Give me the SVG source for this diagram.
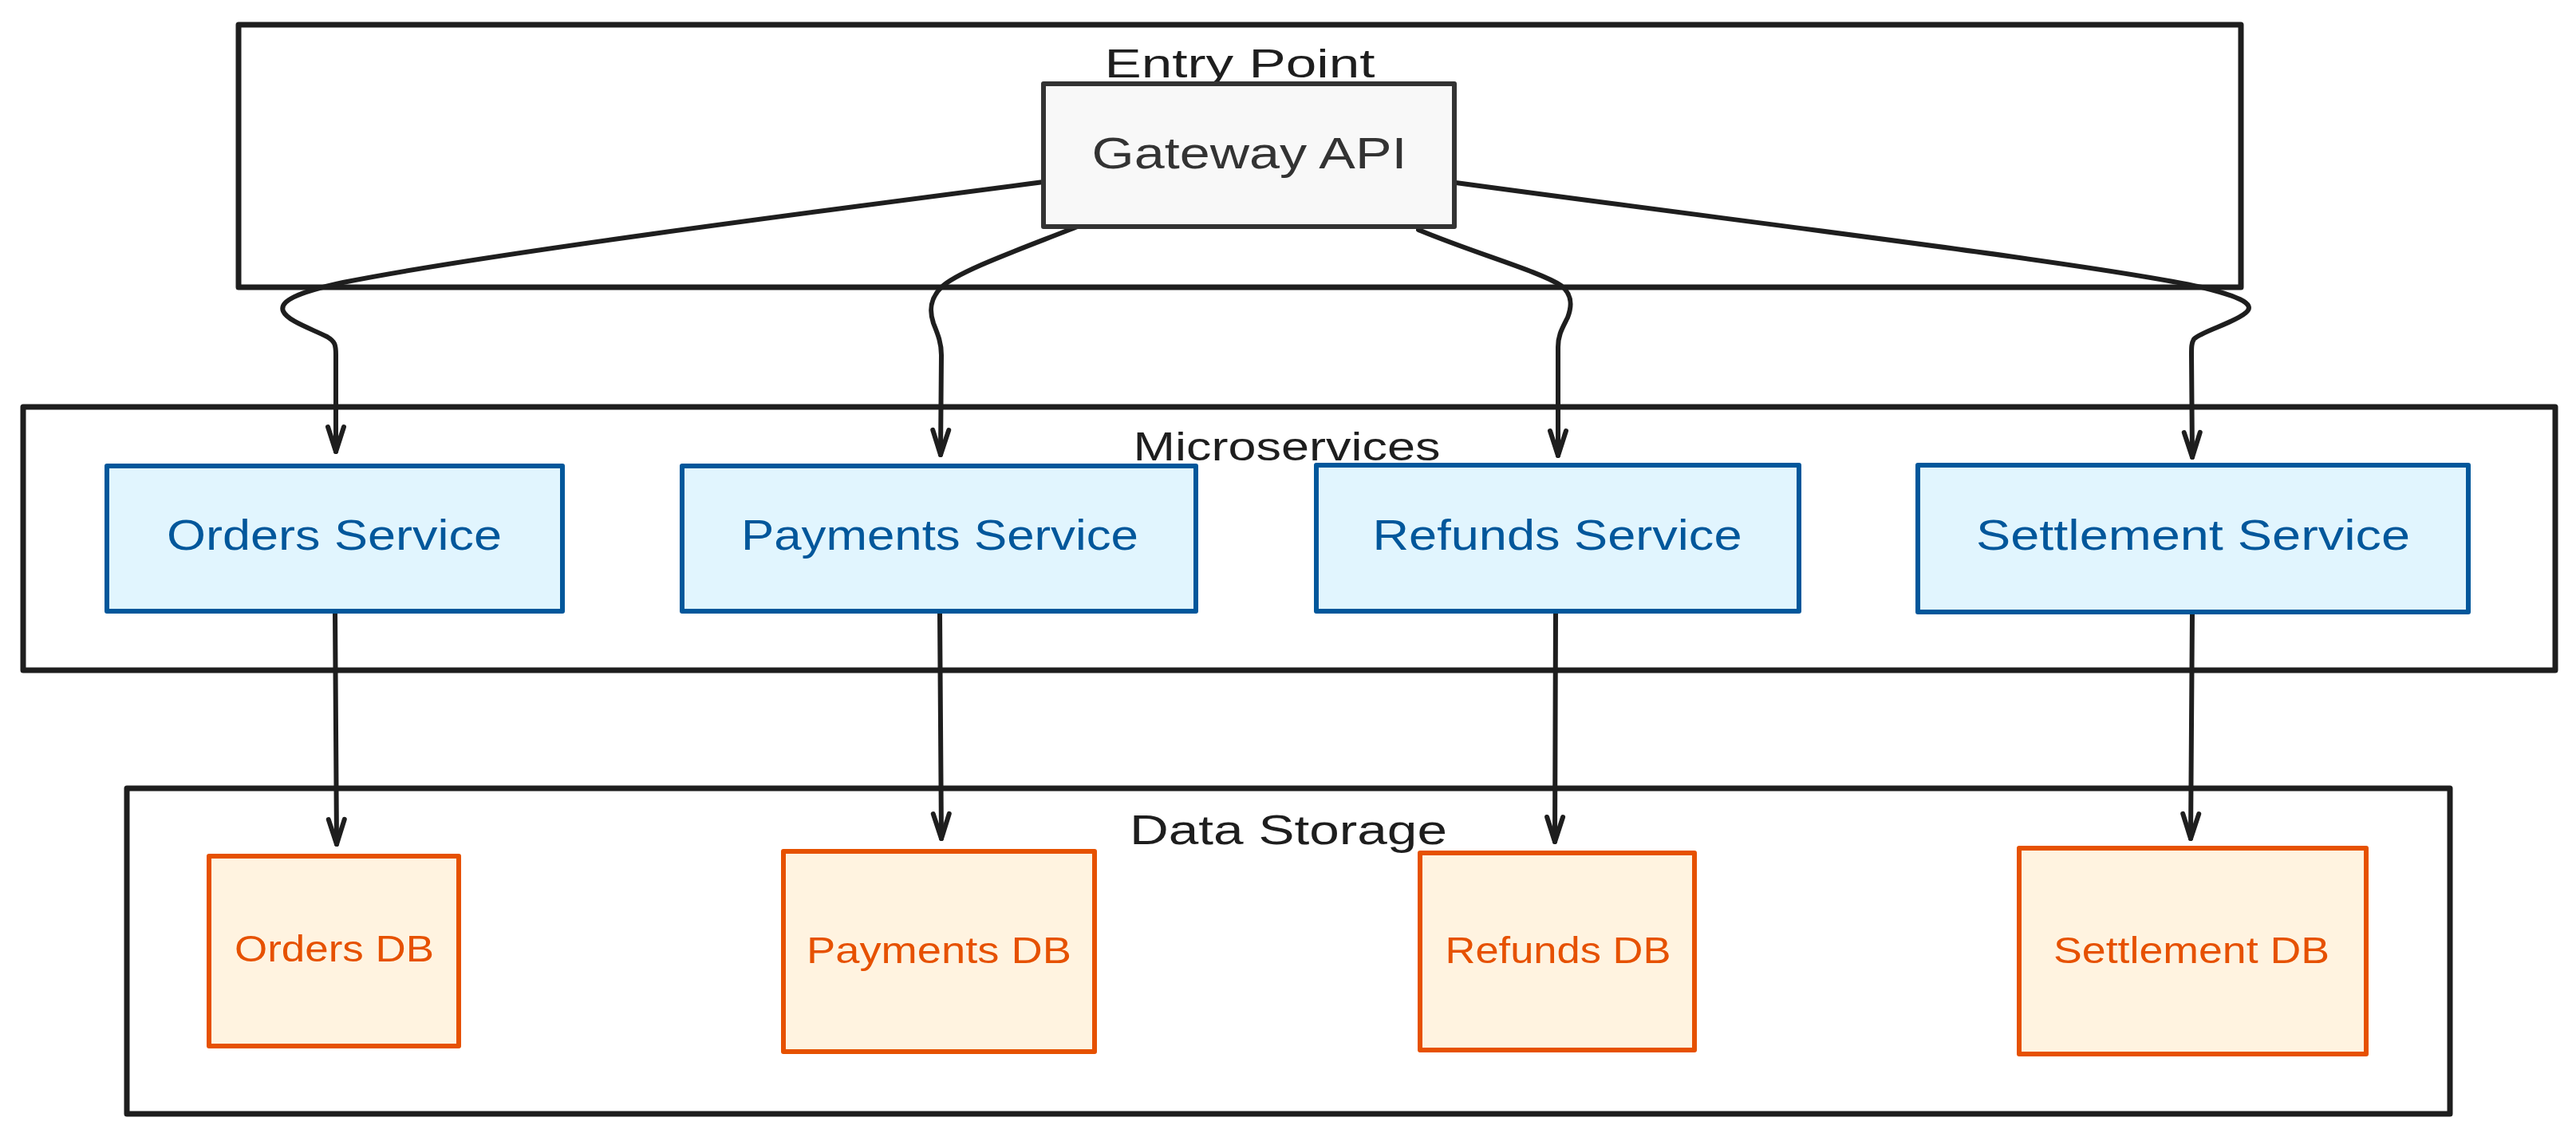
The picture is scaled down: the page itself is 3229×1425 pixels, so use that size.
<svg xmlns="http://www.w3.org/2000/svg" width="3229" height="1425" viewBox="0 0 3229 1425">
<defs>
<style>
.grp{fill:#ffffff;stroke:#1e1e1e;stroke-width:7;stroke-linejoin:round}
.gw{fill:#f8f8f8;stroke:#333333;stroke-width:6;stroke-linejoin:round}
.svc{fill:#e1f5fe;stroke:#01579b;stroke-width:6;stroke-linejoin:round}
.db{fill:#fff3e0;stroke:#e65100;stroke-width:6;stroke-linejoin:round}
.lbl{font-family:"Liberation Sans",Arial,sans-serif;fill:#1e1e1e;text-anchor:middle}
.tgw{font-family:"Liberation Sans",Arial,sans-serif;fill:#333333;text-anchor:middle}
.tsvc{font-family:"Liberation Sans",Arial,sans-serif;fill:#01579b;text-anchor:middle}
.tdb{font-family:"Liberation Sans",Arial,sans-serif;fill:#e65100;text-anchor:middle}
.edge{fill:none;stroke:#1e1e1e;stroke-width:6;stroke-linecap:round;stroke-linejoin:round}
</style>
<marker id="ah" viewBox="-40 -20 48 40" refX="0" refY="0" markerWidth="48" markerHeight="40" markerUnits="userSpaceOnUse" orient="auto">
<path d="M-31,-10 L0,0 L-31,10" fill="none" stroke="#1e1e1e" stroke-width="6" stroke-linecap="round" stroke-linejoin="round"/>
</marker>
</defs>
<rect width="3229" height="1425" fill="#ffffff"/>

<g id="entry-point">
<rect class="grp" x="299" y="31" width="2510" height="329"/>
<text class="lbl" x="1554" y="97" font-size="50" textLength="339" lengthAdjust="spacingAndGlyphs">Entry Point</text>
</g>
<g id="microservices">
<rect class="grp" x="29" y="510" width="3174" height="330"/>
<text class="lbl" x="1613" y="577" font-size="50" textLength="385" lengthAdjust="spacingAndGlyphs">Microservices</text>
</g>
<g id="data-storage">
<rect class="grp" x="159" y="988" width="2912" height="408"/>
<text class="lbl" x="1615" y="1058" font-size="52" textLength="398" lengthAdjust="spacingAndGlyphs">Data Storage</text>
</g>

<g id="connectors">
<path class="edge" marker-end="url(#ah)" d="M1308,228 C1000,268 600,320 430,354 C370,367 350,378 355,390 C360,402 390,412 410,422 C420,428 421,432 421,445 L421,566"/>
<path class="edge" marker-end="url(#ah)" d="M1353,283 C1280,312 1200,340 1180,360 C1165,375 1165,390 1170,405 C1176,420 1180,430 1180,445 L1179,570"/>
<path class="edge" marker-end="url(#ah)" d="M1778,288 C1850,318 1930,340 1957,358 C1972,370 1970,385 1965,398 C1958,412 1953,420 1953,435 L1953,571"/>
<path class="edge" marker-end="url(#ah)" d="M1825,229 C2200,280 2620,330 2760,360 C2800,370 2830,380 2815,392 C2800,405 2760,415 2750,425 C2747,430 2747,435 2747,445 L2748,573"/>
<path class="edge" marker-end="url(#ah)" d="M420,767 L422,1058"/>
<path class="edge" marker-end="url(#ah)" d="M1178,767 L1180,1051"/>
<path class="edge" marker-end="url(#ah)" d="M1950,767 L1949,1055"/>
<path class="edge" marker-end="url(#ah)" d="M2748,767 L2746,1051"/>
</g>

<g id="gateway-api">
<rect class="gw" x="1308" y="105" width="515" height="179"/>
<text class="tgw" x="1566" y="211" font-size="56" textLength="395" lengthAdjust="spacingAndGlyphs">Gateway API</text>
</g>

<g id="orders-service">
<rect class="svc" x="134" y="584" width="571" height="182"/>
<text class="tsvc" x="419" y="689" font-size="54" textLength="420" lengthAdjust="spacingAndGlyphs">Orders Service</text>
</g>
<g id="payments-service">
<rect class="svc" x="855" y="584" width="644" height="182"/>
<text class="tsvc" x="1178" y="689" font-size="54" textLength="498" lengthAdjust="spacingAndGlyphs">Payments Service</text>
</g>
<g id="refunds-service">
<rect class="svc" x="1650" y="583" width="605" height="183"/>
<text class="tsvc" x="1952" y="689" font-size="54" textLength="463" lengthAdjust="spacingAndGlyphs">Refunds Service</text>
</g>
<g id="settlement-service">
<rect class="svc" x="2404" y="583" width="690" height="184"/>
<text class="tsvc" x="2749" y="689" font-size="54" textLength="544" lengthAdjust="spacingAndGlyphs">Settlement Service</text>
</g>

<g id="orders-db">
<rect class="db" x="262" y="1073" width="313" height="238"/>
<text class="tdb" x="419" y="1205" font-size="46" textLength="250" lengthAdjust="spacingAndGlyphs">Orders DB</text>
</g>
<g id="payments-db">
<rect class="db" x="982" y="1067" width="390" height="251"/>
<text class="tdb" x="1177" y="1207" font-size="46" textLength="332" lengthAdjust="spacingAndGlyphs">Payments DB</text>
</g>
<g id="refunds-db">
<rect class="db" x="1780" y="1069" width="344" height="247"/>
<text class="tdb" x="1953" y="1207" font-size="46" textLength="283" lengthAdjust="spacingAndGlyphs">Refunds DB</text>
</g>
<g id="settlement-db">
<rect class="db" x="2531" y="1063" width="435" height="258"/>
<text class="tdb" x="2747" y="1207" font-size="46" textLength="346" lengthAdjust="spacingAndGlyphs">Settlement DB</text>
</g>
</svg>
